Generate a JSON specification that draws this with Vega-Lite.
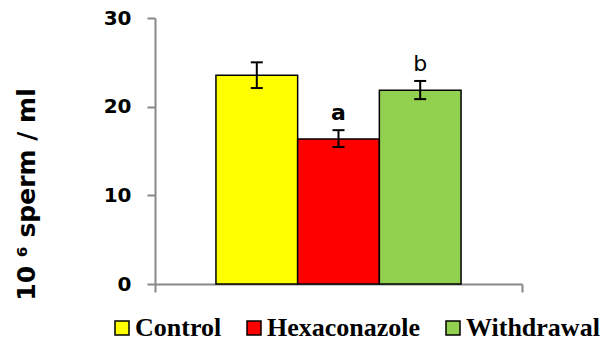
{
  "$schema": "https://vega.github.io/schema/vega-lite/v6.json",
  "width": 367,
  "height": 266,
  "autosize": "none",
  "padding": {"left": 155, "top": 18, "right": 84, "bottom": 58},
  "background": "white",
  "config": {"view": {"stroke": null}, "font": "DejaVu Sans"},
  "data": {
    "values": [
      {"group": "Sperm", "series": "Control", "mean": 23.55, "lo": 22.1, "hi": 25.0, "label": ""},
      {"group": "Sperm", "series": "Hexaconazole", "mean": 16.35, "lo": 15.45, "hi": 17.35, "label": "a"},
      {"group": "Sperm", "series": "Withdrawal", "mean": 21.85, "lo": 20.85, "hi": 22.9, "label": "b"}
    ]
  },
  "encoding": {
    "x": {
      "field": "group",
      "type": "nominal",
      "scale": {"paddingInner": 0, "paddingOuter": 0},
      "axis": {
        "labels": false,
        "title": null,
        "tickBand": "extent",
        "domainColor": "#888888",
        "domainWidth": 2,
        "tickColor": "#888888",
        "tickWidth": 2,
        "tickSize": 8
      }
    },
    "xOffset": {
      "field": "series",
      "type": "nominal",
      "scale": {"domain": ["Control", "Hexaconazole", "Withdrawal"], "paddingInner": 0, "paddingOuter": 0.746}
    }
  },
  "layer": [
    {
      "mark": {"type": "bar", "stroke": "black", "strokeWidth": 1.5},
      "encoding": {
        "y": {
          "field": "mean",
          "type": "quantitative",
          "scale": {"domain": [0, 30]},
          "axis": {
            "title": "10 ⁶ sperm / ml",
            "titleFont": "DejaVu Sans",
            "titleFontWeight": "bold",
            "titleFontSize": 25,
            "titleColor": "black",
            "titleAngle": -90,
            "titleAlign": "center",
            "titleBaseline": "middle",
            "titleX": -129,
            "titleY": 176,
            "values": [0, 10, 20, 30],
            "grid": false,
            "labelFont": "DejaVu Sans",
            "labelFontWeight": "bold",
            "labelFontSize": 20,
            "labelColor": "black",
            "labelPadding": 16,
            "tickSize": 8,
            "tickWidth": 2,
            "tickColor": "#888888",
            "domainColor": "#888888",
            "domainWidth": 2
          }
        },
        "color": {
          "field": "series",
          "type": "nominal",
          "scale": {"domain": ["Control", "Hexaconazole", "Withdrawal"], "range": ["#FFFF00", "#FF0000", "#92D050"]},
          "legend": {
            "orient": "none",
            "legendX": -46,
            "legendY": 297,
            "direction": "horizontal",
            "title": null,
            "symbolType": "square",
            "symbolSize": 196,
            "symbolStrokeColor": "black",
            "symbolStrokeWidth": 1.5,
            "symbolOpacity": 1,
            "labelFont": "Liberation Serif",
            "labelFontWeight": "bold",
            "labelFontSize": 26,
            "labelColor": "black",
            "labelOffset": 0,
            "labelLimit": 300,
            "columnPadding": 19,
            "padding": 0
          }
        }
      }
    },
    {
      "mark": {"type": "rule", "color": "black", "strokeWidth": 2},
      "encoding": {
        "y": {"field": "lo", "type": "quantitative"},
        "y2": {"field": "hi"}
      }
    },
    {
      "mark": {"type": "tick", "color": "black", "thickness": 2, "size": 12, "opacity": 1},
      "encoding": {"y": {"field": "lo", "type": "quantitative"}}
    },
    {
      "mark": {"type": "tick", "color": "black", "thickness": 2, "size": 12, "opacity": 1},
      "encoding": {"y": {"field": "hi", "type": "quantitative"}}
    },
    {
      "transform": [{"filter": "datum.label == 'a'"}],
      "mark": {"type": "text", "font": "DejaVu Sans", "fontWeight": "bold", "fontSize": 22, "baseline": "alphabetic", "dy": -10, "color": "black"},
      "encoding": {"y": {"field": "hi", "type": "quantitative"}, "text": {"field": "label"}}
    },
    {
      "transform": [{"filter": "datum.label == 'b'"}],
      "mark": {"type": "text", "font": "DejaVu Sans", "fontWeight": "normal", "fontSize": 22, "baseline": "alphabetic", "dy": -10, "color": "black"},
      "encoding": {"y": {"field": "hi", "type": "quantitative"}, "text": {"field": "label"}}
    }
  ]
}
